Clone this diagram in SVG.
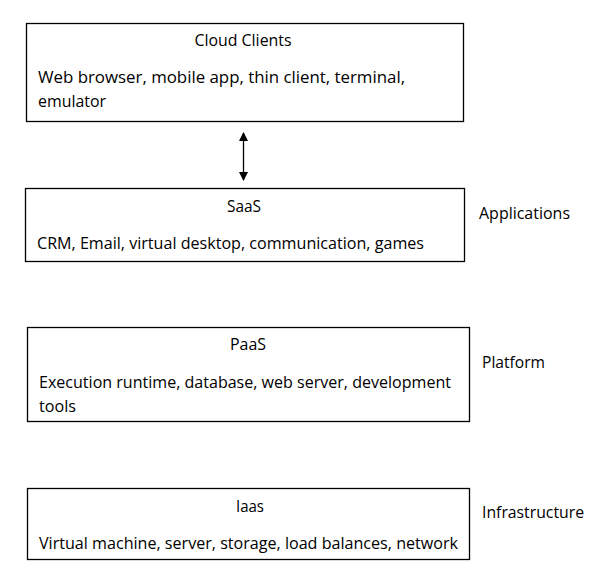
<svg xmlns="http://www.w3.org/2000/svg" width="600" height="581" viewBox="0 0 600 581">
<style>
.box{fill:#fff;stroke:#000;stroke-width:1.3}
text{font-family:"Open Sans","Liberation Sans",sans-serif;font-size:16px;fill:#000}
.c{text-anchor:middle}
.conn{stroke:#000;stroke-width:1.3;fill:none}
</style>
<defs>
<marker id="ah" viewBox="0 0 10 10" refX="9" refY="5" markerWidth="10" markerHeight="9" markerUnits="userSpaceOnUse" orient="auto-start-reverse">
<path d="M0,0 L10,5 L0,10 z" fill="#000"/>
</marker>
</defs>
<rect width="600" height="581" fill="#fff"/>
<g id="cloud-clients">
<rect class="box" x="26.5" y="23.5" width="437" height="98"/>
<text class="c" x="243" y="46" textLength="97" lengthAdjust="spacingAndGlyphs">Cloud Clients</text>
<text x="38" y="83" textLength="367" lengthAdjust="spacingAndGlyphs">Web browser, mobile app, thin client, terminal,</text>
<text x="38" y="107" textLength="68" lengthAdjust="spacingAndGlyphs">emulator</text>
</g>
<g id="saas">
<rect class="box" x="25.5" y="188.5" width="439" height="73"/>
<text class="c" x="244" y="212" textLength="34" lengthAdjust="spacingAndGlyphs">SaaS</text>
<text x="37" y="249" textLength="387" lengthAdjust="spacingAndGlyphs">CRM, Email, virtual desktop, communication, games</text>
<text x="479" y="219" textLength="91" lengthAdjust="spacingAndGlyphs">Applications</text>
</g>
<g id="paas">
<rect class="box" x="27.5" y="327.5" width="442" height="94"/>
<text class="c" x="248" y="350" textLength="36" lengthAdjust="spacingAndGlyphs">PaaS</text>
<text x="39" y="388" textLength="412" lengthAdjust="spacingAndGlyphs">Execution runtime, database, web server, development</text>
<text x="39" y="412" textLength="37" lengthAdjust="spacingAndGlyphs">tools</text>
<text x="482" y="368" textLength="63" lengthAdjust="spacingAndGlyphs">Platform</text>
</g>
<g id="iaas">
<rect class="box" x="27.5" y="488.5" width="442" height="71"/>
<text class="c" x="250" y="512" textLength="28" lengthAdjust="spacingAndGlyphs">Iaas</text>
<text x="39" y="549" textLength="419" lengthAdjust="spacingAndGlyphs">Virtual machine, server, storage, load balances, network</text>
<text x="482" y="518" textLength="102" lengthAdjust="spacingAndGlyphs">Infrastructure</text>
</g>
<g id="connectors">
<line class="conn" x1="243.5" y1="133" x2="243.5" y2="180" marker-start="url(#ah)" marker-end="url(#ah)"/>
</g>
</svg>
